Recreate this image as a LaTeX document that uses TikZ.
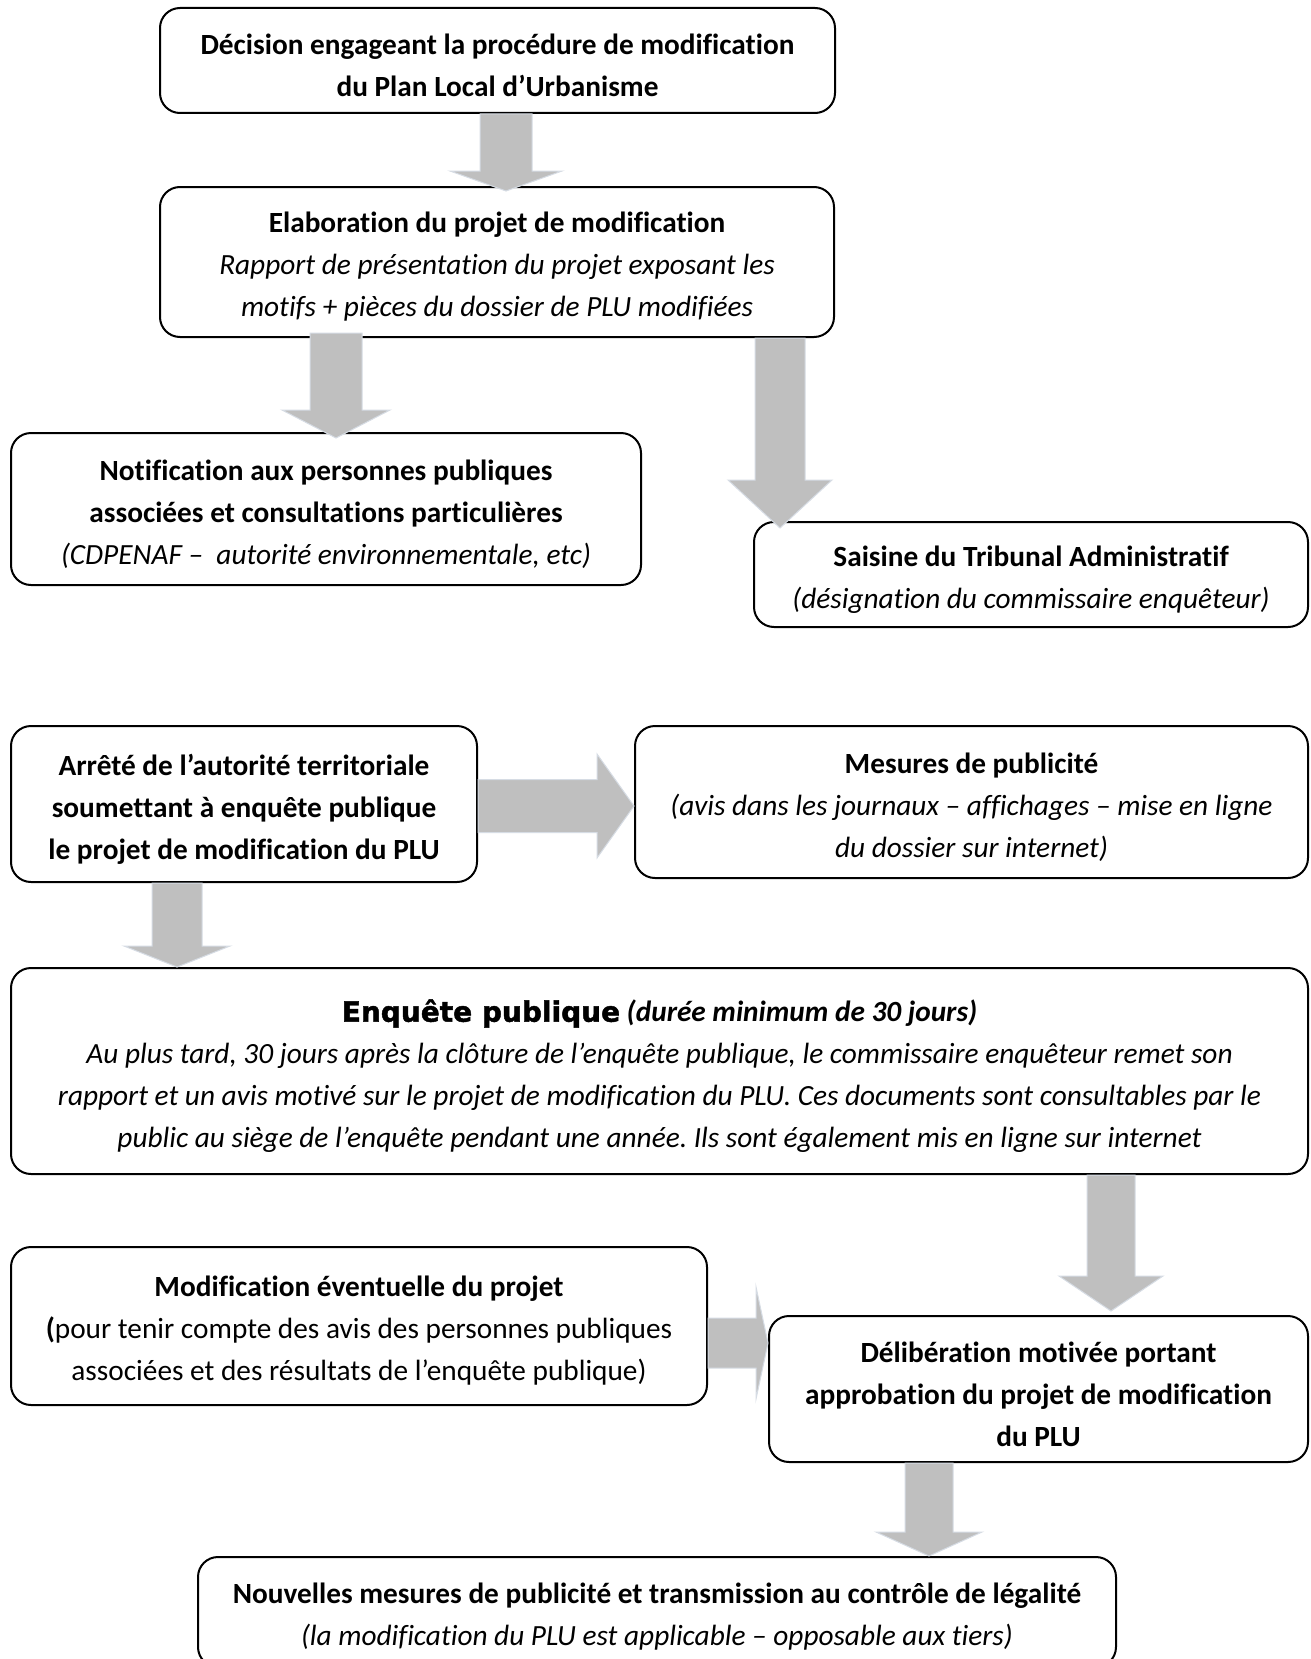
\documentclass[tikz,border=0pt]{standalone}
\usepackage{fontspec}
\setmainfont{Carlito}[Ligatures=NoCommon]
\newfontfamily\blackfont{DejaVu Sans}[BoldFeatures={FakeBold=1.6}]
\usetikzlibrary{calc}
\definecolor{arrowgray}{RGB}{191,191,191}
\definecolor{arrowedge}{RGB}{214,220,228}
\tikzset{
  box/.style={draw, line width=2pt, rounded corners=20pt, inner sep=0pt},
  boxtext/.style={align=center, inner sep=0pt, yshift=-5pt,
    font=\frenchspacing\fontsize{29.3}{42}\selectfont},
  blockarrow/.style={fill=arrowgray, draw=arrowedge, line width=1pt, line join=miter},
}
% vertical block arrow: #1 start (shaft top), #2 tip point (only y used), #3 shaft half width, #4 head half width, #5 head length
\newcommand\varrow[5]{\path[blockarrow] let \p1=(#1), \p2=(#2) in
  (\x1-#3,\y1) -- (\x1+#3,\y1) -- (\x1+#3,\y2+#5) -- (\x1+#4,\y2+#5) -- (\x1,\y2)
  -- (\x1-#4,\y2+#5) -- (\x1-#3,\y2+#5) -- cycle;}
% horizontal block arrow: #1 start (shaft left), #2 tip point (only x used)
\newcommand\harrow[5]{\path[blockarrow] let \p1=(#1), \p2=(#2) in
  (\x1,\y1+#3) -- (\x2-#5,\y1+#3) -- (\x2-#5,\y1+#4) -- (\x2,\y1) -- (\x2-#5,\y1-#4)
  -- (\x2-#5,\y1-#3) -- (\x1,\y1-#3) -- cycle;}
\begin{document}
\begin{tikzpicture}[x=1pt,y=-1pt]
\useasboundingbox (0,0) rectangle (1311,1659);
\clip (0,0) rectangle (1311,1659);
\fill[white] (0,0) rectangle (1311,1659);

\node[box, minimum width=675pt, minimum height=105pt,
  label={[boxtext]center:{\textbf{Décision engageant la procédure de modification}\\\textbf{du Plan Local d’Urbanisme}}}] (b1) at (497.5,60.5) {};
\node[box, minimum width=674pt, minimum height=150pt,
  label={[boxtext]center:{\textbf{Elaboration du projet de modification}\\\textit{Rapport de présentation du projet exposant les}\\\textit{motifs + pièces du dossier de PLU modifiées}}}] (b2) at (497,262) {};
\node[box, minimum width=630pt, minimum height=152pt,
  label={[boxtext]center:{\textbf{Notification aux personnes publiques}\\\textbf{associées et consultations particulières}\\\textit{(CDPENAF –~~autorité environnementale, etc)}}}] (b3) at (326,509) {};
\node[box, minimum width=554pt, minimum height=105pt,
  label={[boxtext]center:{\textbf{Saisine du Tribunal Administratif}\\\textit{(désignation du commissaire enquêteur)}}}] (b4) at (1031,574.5) {};
\node[box, minimum width=466pt, minimum height=156pt,
  label={[boxtext]center:{\textbf{Arrêté de l’autorité territoriale}\\\textbf{soumettant à enquête publique}\\\textbf{le projet de modification du PLU}}}] (b5) at (244,804) {};
\node[box, minimum width=673pt, minimum height=152pt,
  label={[boxtext]center:{\textbf{Mesures de publicité}\\\textit{(avis dans les journaux – affichages – mise en ligne}\\\textit{du dossier sur internet)}}}] (b6) at (971.5,802) {};
\node[box, minimum width=1297pt, minimum height=206pt,
  label={[boxtext]center:{{\blackfont\bfseries\fontsize{28}{42}\selectfont Enquête publique} \textbf{\textit{(durée minimum de 30 jours)}}\\\textit{Au plus tard, 30 jours après la clôture de l’enquête publique, le commissaire enquêteur remet son}\\\textit{rapport et un avis motivé sur le projet de modification du PLU. Ces documents sont consultables par le}\\\textit{public au siège de l’enquête pendant une année. Ils sont également mis en ligne sur internet}}}] (b7) at (659.5,1071) {};
\node[box, minimum width=696pt, minimum height=158pt,
  label={[boxtext]center:{\textbf{Modification éventuelle du projet}\\\textbf{(}pour tenir compte des avis des personnes publiques\\associées et des résultats de l’enquête publique)}}] (b8) at (359,1326) {};
\node[box, minimum width=539pt, minimum height=146pt,
  label={[boxtext]center:{\textbf{Délibération motivée portant}\\\textbf{approbation du projet de modification}\\\textbf{du PLU}}}] (b9) at (1038.5,1389) {};
\node[box, minimum width=918pt, minimum height=110pt,
  label={[boxtext]center:{\textbf{Nouvelles mesures de publicité et transmission au contrôle de légalité}\\\textit{(la modification du PLU est applicable – opposable aux tiers)}}}] (b10) at (657,1612) {};

% connectors (block arrows)
\varrow{[xshift=8.5pt]b1.south}{[yshift=-5pt]b2.north}{26pt}{56pt}{20pt}
\varrow{[xshift=-161pt,yshift=5pt]b2.south}{[yshift=-6pt]b3.north}{26pt}{54pt}{28pt}
\varrow{[xshift=283pt]b2.south}{[yshift=-7pt]b4.north}{25pt}{52pt}{48pt}
\harrow{[yshift=-2pt]b5.east}{b6.west}{26.5pt}{52pt}{37pt}
\varrow{[xshift=-67pt]b5.south}{b7.north}{25pt}{53pt}{21pt}
\varrow{[xshift=451.5pt]b7.south}{[yshift=4pt]b9.north}{24pt}{52pt}{35pt}
\harrow{[yshift=-17pt]b8.east}{b9.west}{25pt}{56pt}{12pt}
\varrow{[xshift=-109.5pt]b9.south}{b10.north}{24pt}{53pt}{24pt}
\end{tikzpicture}
\end{document}
